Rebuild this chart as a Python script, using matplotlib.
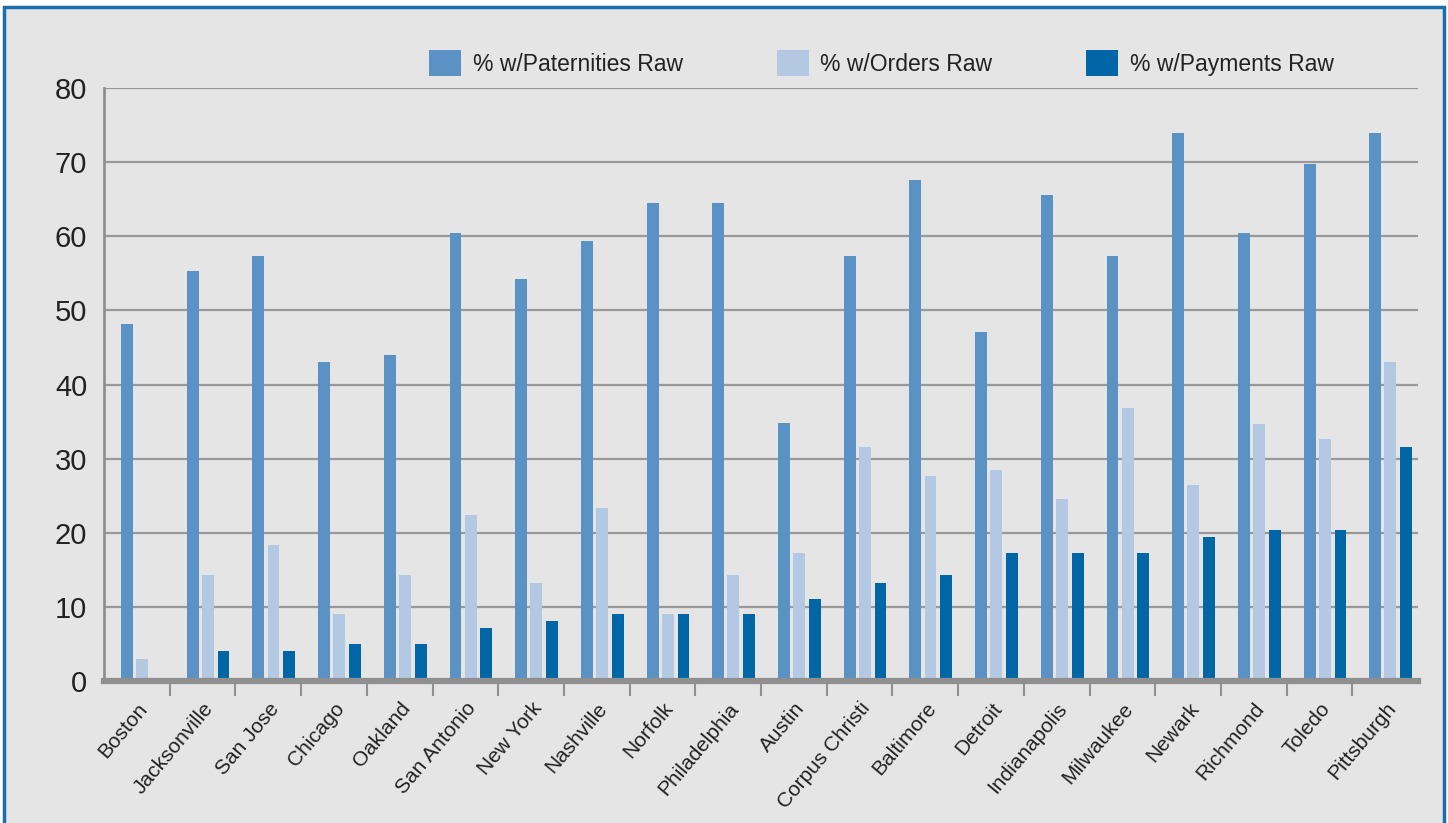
import matplotlib.pyplot as plt
from matplotlib.patches import Rectangle
import numpy as np

plt.rcParams['font.family'] = ['Liberation Sans', 'DejaVu Sans']

cities = ['Boston', 'Jacksonville', 'San Jose', 'Chicago', 'Oakland', 'San Antonio',
          'New York', 'Nashville', 'Norfolk', 'Philadelphia', 'Austin', 'Corpus Christi',
          'Baltimore', 'Detroit', 'Indianapolis', 'Milwaukee', 'Newark', 'Richmond',
          'Toledo', 'Pittsburgh']
paternities = [48.2, 55.3, 57.4, 43.0, 44.0, 60.4, 54.2, 59.3, 64.5, 64.5,
               34.8, 57.4, 67.6, 47.1, 65.5, 57.4, 73.9, 60.4, 69.7, 73.9]
orders = [3.0, 14.3, 18.3, 9.1, 14.3, 22.4, 13.2, 23.4, 9.1, 14.3,
          17.3, 31.6, 27.6, 28.5, 24.5, 36.8, 26.5, 34.7, 32.7, 43.0]
payments = [0, 4.0, 4.0, 5.0, 5.0, 7.1, 8.1, 9.1, 9.1, 9.1,
            11.1, 13.2, 14.3, 17.3, 17.3, 17.3, 19.4, 20.4, 20.4, 31.6]
series_names = ['% w/Paternities Raw', '% w/Orders Raw', '% w/Payments Raw']

c_pat = '#5b92c5'
c_ord = '#b3c9e3'
c_pay = '#0066a6'
bg = '#e5e5e5'
border = '#1a6daf'
grey = '#8f8f8f'

fig = plt.figure(figsize=(14.48, 8.23), dpi=100, facecolor='white')
# grey panel with blue frame, kept behind the axes
fig.patches.append(Rectangle((4 / 1448, -0.02), 1440 / 1448, 1 - 7 / 823 + 0.02,
                             transform=fig.transFigure, facecolor=bg,
                             edgecolor=border, linewidth=2.5, zorder=-10))

ax = fig.add_axes([104 / 1448, 1 - 681 / 823, 1314 / 1448, (681 - 88) / 823])
ax.set_zorder(1)
ax.patch.set_alpha(0)

x = np.arange(len(cities))
w = 0.18
ax.bar(x - 0.15, paternities, w, color=c_pat, label=series_names[0], zorder=3)
ax.bar(x + 0.08, orders, w, color=c_ord, label=series_names[1], zorder=3)
ax.bar(x + 0.32, payments, w, color=c_pay, label=series_names[2], zorder=3)

ax.set_xlim(-0.5, len(cities) - 0.5)
ax.set_ylim(0, 80)
ax.set_yticks(range(0, 81, 10))
ax.yaxis.grid(True, color='#999999', linewidth=1.6, zorder=1)
ax.set_axisbelow(True)

for s in ['top', 'right']:
    ax.spines[s].set_visible(False)
ax.spines['left'].set_color(grey)
ax.spines['left'].set_linewidth(2)
ax.spines['bottom'].set_color(grey)
ax.spines['bottom'].set_linewidth(4.5)
ax.spines['bottom'].set_zorder(4)

ax.tick_params(axis='y', length=0, pad=12, labelsize=21, labelcolor='#222222')
ax.set_xticks(x)
ax.set_xticklabels(cities, rotation=50, ha='right', va='top',
                   rotation_mode='anchor', fontsize=15, color='#222222')
ax.tick_params(axis='x', which='major', length=0, pad=13)
ax.set_xticks(x[:-1] + 0.5, minor=True)
ax.tick_params(axis='x', which='minor', length=11, width=1.5, color=grey, direction='out')

fig.legend(loc='upper left', bbox_to_anchor=(429 / 1448, 1 - 50 / 823), ncol=3,
           frameon=False, fontsize=16.5, borderpad=0, borderaxespad=0,
           handlelength=1.4, handleheight=1.38, handletextpad=0.5,
           columnspacing=4.1, labelcolor='#222222')

fig.savefig('out.png', dpi=100, facecolor='white')
